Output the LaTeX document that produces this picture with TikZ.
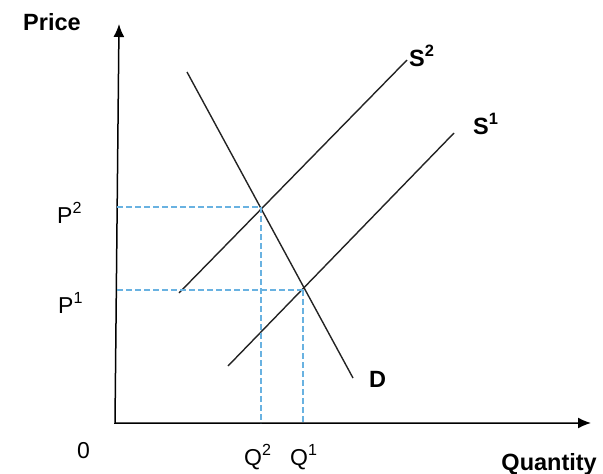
\documentclass[tikz,border=0pt]{standalone}
\usepackage{fontspec}
\setmainfont{Liberation Sans}
\usetikzlibrary{arrows.meta}
\definecolor{guide}{RGB}{105,178,225}
\definecolor{curve}{RGB}{35,35,35}
\begin{document}
\begin{tikzpicture}[x=1pt,y=-1pt,
  >={Latex[length=13pt,width=11pt]},
  axis/.style={line width=1.5pt, draw=black, <->},
  curveline/.style={line width=1.4pt, draw=curve},
  guideline/.style={line width=2pt, draw=guide, dash pattern=on 6pt off 3pt},
  lbl/.style={font=\fontsize{23}{27}\selectfont, inner sep=0pt},
  blbl/.style={font=\fontsize{23.5}{27}\selectfont\bfseries, inner sep=0pt}]
\useasboundingbox (0,0) rectangle (603,474);
% axes
\coordinate (O) at (115,423);
\coordinate (Ytop) at (119,24);
\coordinate (Xend) at (591,423);
\draw[axis] (Ytop) -- (O) -- (Xend);
% curves
\coordinate (Dt) at (187,72);
\coordinate (Db) at (353,378);
\coordinate (S2a) at (179,293);
\coordinate (S2b) at (407,60);
\coordinate (S1a) at (228,366);
\coordinate (S1b) at (454,133);
\draw[curveline] (Dt) -- (Db);
\draw[curveline] (S2a) -- (S2b);
\draw[curveline] (S1a) -- (S1b);
% equilibrium points
\coordinate (E2) at (261,207);
\coordinate (E1) at (303,290);
% guides
\coordinate (Yref) at (117,423);
\draw[guideline] (Yref |- E2) -- (E2);
\draw[guideline] (E2) -- (E2 |- O);
\draw[guideline] (Yref |- E1) -- (E1);
\draw[guideline] (E1) -- (E1 |- O);
% labels
\node[blbl, anchor=base west] (price) at (23,30) {Price};
\node[lbl, anchor=base west] (zero) at (77,458) {0};
\node[lbl, anchor=base west] (p2) at (57,223) {P\textsuperscript{2}};
\node[lbl, anchor=base west] (p1) at (58,313) {P\textsuperscript{1}};
\node[lbl, anchor=base west] (q2) at (244,465) {Q\textsuperscript{2}};
\node[lbl, anchor=base west] (q1) at (290,465) {Q\textsuperscript{1}};
\node[blbl, anchor=base east] (qty) at (597,470) {Quantity};
\node[blbl, anchor=base west] (s2lab) at (409,66) {S\textsuperscript{2}};
\node[blbl, anchor=base west] (s1lab) at (473,134) {S\textsuperscript{1}};
\node[blbl, anchor=base west] (dlab) at (369,387) {D};
\end{tikzpicture}
\end{document}
